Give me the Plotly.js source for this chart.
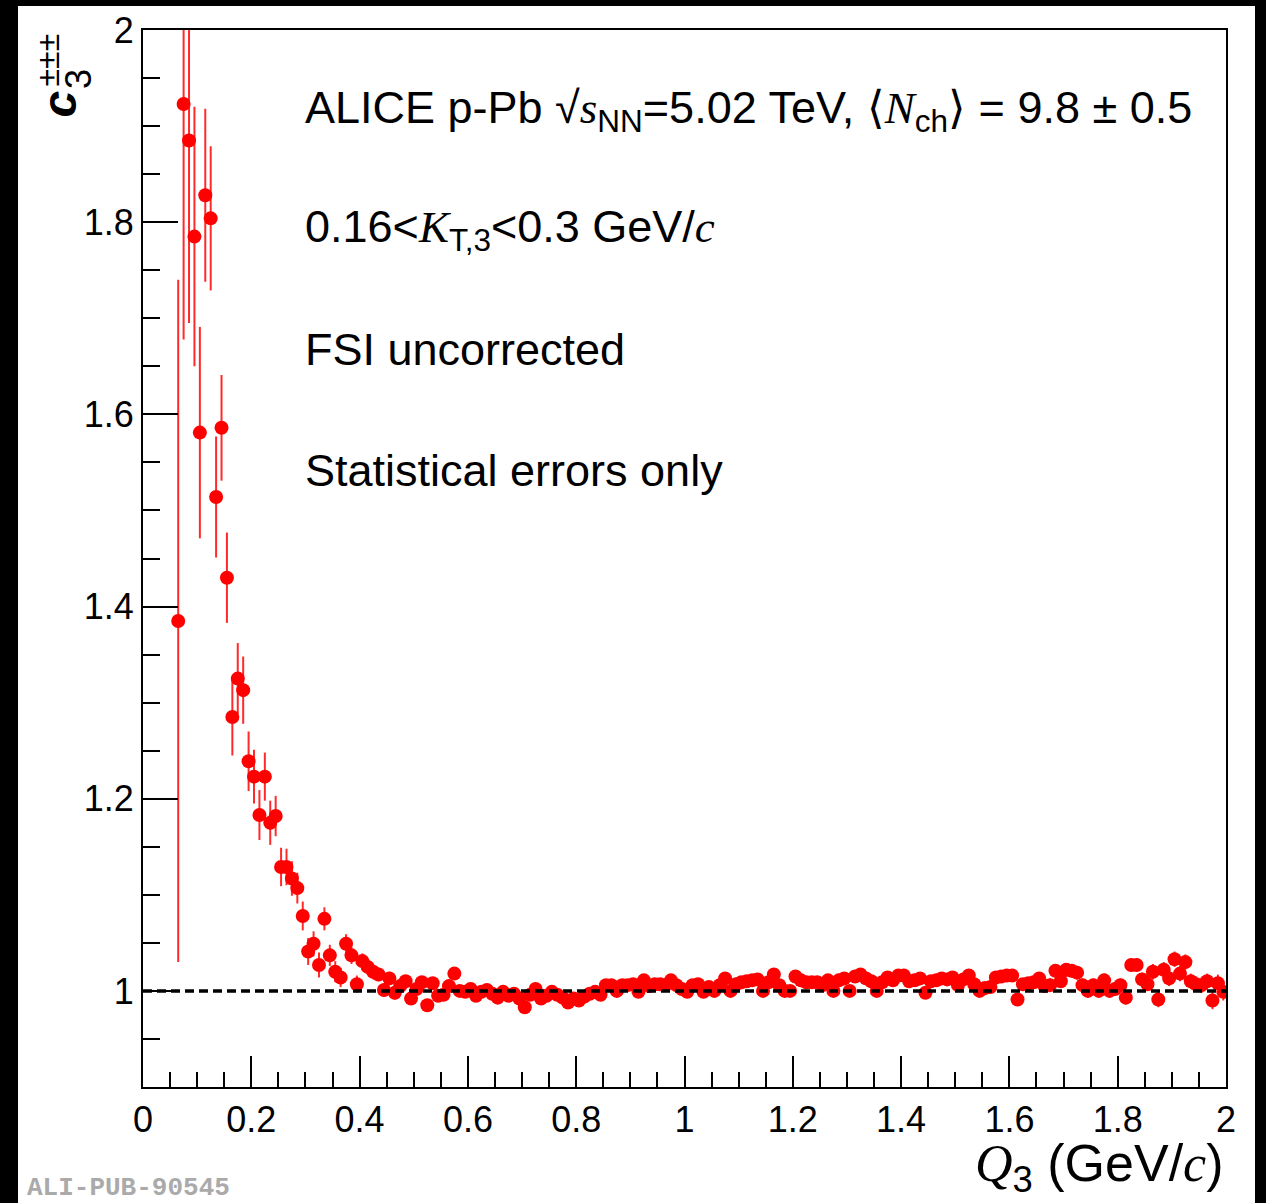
<!DOCTYPE html>
<html>
<head>
<meta charset="utf-8">
<script src="https://cdn.plot.ly/plotly-3.0.1.min.js"></script>
<style>
  html, body { margin: 0; padding: 0; background: #000; width: 1266px; height: 1203px; overflow: hidden; }
  #plot { position: absolute; left: 18px; top: 6px; width: 1237px; height: 1197px; background: #fff; }
</style>
</head>
<body>
<div id="plot"></div>
<script>
// Bin centres of Q3 (GeV/c)
const q3 = [
 0.065,0.075,0.085,0.095,0.105,0.115,0.125,0.135,0.145,0.155,
 0.165,0.175,0.185,0.195,0.205,0.215,0.225,0.235,0.245,0.255,
 0.265,0.275,0.285,0.295,0.305,0.315,0.325,0.335,0.345,0.355,
 0.365,0.375,0.385,0.395,0.405,0.415,0.425,0.435,0.445,0.455,
 0.465,0.475,0.485,0.495,0.505,0.515,0.525,0.535,0.545,0.555,
 0.565,0.575,0.585,0.595,0.605,0.615,0.625,0.635,0.645,0.655,
 0.665,0.675,0.685,0.695,0.705,0.715,0.725,0.735,0.745,0.755,
 0.765,0.775,0.785,0.795,0.805,0.815,0.825,0.835,0.845,0.855,
 0.865,0.875,0.885,0.895,0.905,0.915,0.925,0.935,0.945,0.955,
 0.965,0.975,0.985,0.995,1.005,1.015,1.025,1.035,1.045,1.055,
 1.065,1.075,1.085,1.095,1.105,1.115,1.125,1.135,1.145,1.155,
 1.165,1.175,1.185,1.195,1.205,1.215,1.225,1.235,1.245,1.255,
 1.265,1.275,1.285,1.295,1.305,1.315,1.325,1.335,1.345,1.355,
 1.365,1.375,1.385,1.395,1.405,1.415,1.425,1.435,1.445,1.455,
 1.465,1.475,1.485,1.495,1.505,1.515,1.525,1.535,1.545,1.555,
 1.565,1.575,1.585,1.595,1.605,1.615,1.625,1.635,1.645,1.655,
 1.665,1.675,1.685,1.695,1.705,1.715,1.725,1.735,1.745,1.755,
 1.765,1.775,1.785,1.795,1.805,1.815,1.825,1.835,1.845,1.855,
 1.865,1.875,1.885,1.895,1.905,1.915,1.925,1.935,1.945,1.955,
 1.965,1.975,1.985,1.995
];

// Three-pion correlation c3(+-+-+-)
const c3 = [
 1.385,1.923,1.885,1.785,1.581,1.828,1.804,1.514,1.586,1.430,
 1.285,1.325,1.313,1.239,1.223,1.183,1.223,1.175,1.182,1.129,
 1.129,1.117,1.107,1.078,1.041,1.049,1.027,1.075,1.037,1.020,
 1.014,1.049,1.037,1.007,1.031,1.025,1.020,1.017,1.001,1.013,
 0.998,1.005,1.010,0.992,1.002,1.009,0.985,1.008,0.995,0.996,
 1.005,1.018,1.000,0.999,1.002,0.995,0.999,1.001,0.997,0.993,
 0.999,0.995,0.997,0.992,0.983,0.996,1.002,0.992,0.995,0.999,
 0.996,0.993,0.988,0.992,0.990,0.994,0.997,0.999,0.996,1.006,
 1.006,1.000,1.006,1.006,1.007,0.999,1.011,1.005,1.007,1.007,
 1.006,1.011,1.006,1.002,0.999,1.006,1.007,0.999,1.004,1.000,
 1.006,1.013,1.000,1.007,1.009,1.010,1.011,1.012,1.000,1.009,
 1.017,1.006,1.000,1.000,1.015,1.011,1.009,1.009,1.009,1.006,
 1.011,1.000,1.011,1.013,1.000,1.015,1.017,1.013,1.010,1.000,
 1.009,1.014,1.011,1.016,1.016,1.010,1.011,1.013,0.998,1.010,
 1.011,1.013,1.012,1.014,1.006,1.012,1.016,1.007,1.000,1.003,
 1.004,1.014,1.015,1.016,1.016,0.991,1.007,1.008,1.009,1.013,
 1.005,1.006,1.021,1.010,1.022,1.021,1.019,1.006,1.000,1.006,
 1.000,1.011,1.000,1.002,1.006,0.993,1.027,1.027,1.012,1.007,
 1.020,0.991,1.022,1.013,1.033,1.018,1.030,1.010,1.007,1.006,
 1.010,0.990,1.008,0.999
];

// Statistical errors
const c3Err = [
 0.355,0.245,0.190,0.135,0.110,0.090,0.075,0.063,0.055,0.047,
 0.040,0.037,0.035,0.031,0.028,0.026,0.025,0.023,0.021,0.020,
 0.019,0.018,0.016,0.015,0.014,0.013,0.013,0.012,0.011,0.011,
 0.010,0.010,0.009,0.009,0.008,0.008,0.008,0.007,0.007,0.007,
 0.007,0.007,0.006,0.006,0.006,0.006,0.006,0.006,0.006,0.006,
 0.005,0.005,0.005,0.005,0.005,0.005,0.005,0.005,0.005,0.005,
 0.005,0.005,0.005,0.005,0.005,0.005,0.005,0.005,0.005,0.005,
 0.005,0.005,0.005,0.005,0.005,0.005,0.005,0.005,0.005,0.005,
 0.005,0.005,0.005,0.005,0.005,0.005,0.005,0.005,0.005,0.005,
 0.005,0.005,0.005,0.005,0.005,0.005,0.005,0.005,0.005,0.005,
 0.005,0.005,0.005,0.005,0.005,0.005,0.005,0.005,0.005,0.005,
 0.005,0.005,0.005,0.005,0.005,0.005,0.005,0.005,0.005,0.005,
 0.006,0.006,0.006,0.006,0.006,0.006,0.006,0.006,0.006,0.006,
 0.006,0.006,0.006,0.006,0.006,0.006,0.006,0.006,0.006,0.006,
 0.006,0.006,0.006,0.006,0.006,0.006,0.006,0.006,0.006,0.006,
 0.006,0.006,0.006,0.006,0.006,0.006,0.006,0.006,0.006,0.006,
 0.007,0.007,0.007,0.007,0.007,0.007,0.007,0.007,0.007,0.007,
 0.007,0.007,0.007,0.007,0.007,0.007,0.007,0.007,0.007,0.007,
 0.008,0.008,0.008,0.008,0.008,0.008,0.008,0.008,0.008,0.008,
 0.008,0.009,0.009,0.009
];

// Reference line c3 = 1
const refX = [0, 2];
const refY = [1, 1];

const xTickVals = [0, 0.2, 0.4, 0.6, 0.8, 1, 1.2, 1.4, 1.6, 1.8, 2];
const xTickText = ['0', '0.2', '0.4', '0.6', '0.8', '1', '1.2', '1.4', '1.6', '1.8', '2'];
const yTickVals = [1, 1.2, 1.4, 1.6, 1.8, 2];
const yTickText = ['1', '1.2', '1.4', '1.6', '1.8', '2'];

const SANS = 'Liberation Sans, Arial, Helvetica, sans-serif';

const traces = [
  {
    x: q3, y: c3, type: 'scatter', mode: 'markers',
    marker: { color: '#ff0000', size: 14, line: { width: 0 } },
    error_y: { type: 'data', array: c3Err, visible: true, color: '#ff2a2a', thickness: 2, width: 0 },
    cliponaxis: true, hoverinfo: 'skip', showlegend: false
  },
  {
    x: refX, y: refY, type: 'scatter', mode: 'lines',
    line: { color: '#000', width: 3.5, dash: '9px,5px' },
    hoverinfo: 'skip', showlegend: false
  }
];

function ann(text, x, y, size, opts) {
  return Object.assign({
    text: text, xref: 'paper', yref: 'paper', x: x, y: y,
    xanchor: 'left', yanchor: 'middle', showarrow: false,
    font: { family: SANS, size: size, color: '#000' }
  }, opts || {});
}

const layout = {
  width: 1237, height: 1197,
  paper_bgcolor: '#fff', plot_bgcolor: '#fff',
  margin: { l: 125, r: 29, t: 24, b: 116, pad: 0 },
  showlegend: false,
  font: { family: SANS, size: 36, color: '#000' },
  xaxis: {
    range: [0, 2], tickmode: 'array', tickvals: xTickVals, ticktext: xTickText,
    ticks: 'inside', ticklen: 31, tickwidth: 2, tickcolor: '#000',
    minor: { dtick: 0.05, tick0: 0, ticks: 'inside', ticklen: 15, tickwidth: 2, tickcolor: '#000' },
    showline: true, linecolor: '#000', linewidth: 2, mirror: true,
    showgrid: false, zeroline: false,
    tickfont: { family: SANS, size: 36, color: '#000' }
  },
  yaxis: {
    range: [0.9, 2], tickmode: 'array', tickvals: yTickVals, ticktext: yTickText,
    ticks: 'inside', ticklen: 35, tickwidth: 2, tickcolor: '#000',
    minor: { dtick: 0.05, tick0: 0.9, ticks: 'inside', ticklen: 17, tickwidth: 2, tickcolor: '#000' },
    showline: true, linecolor: '#000', linewidth: 2, mirror: true,
    showgrid: false, zeroline: false,
    tickfont: { family: SANS, size: 36, color: '#000' }
  },
  annotations: [
    ann('ALICE p-Pb √<span style="font-family:Liberation Serif"><i>s</i></span><sub>NN</sub>=5.02 TeV, ⟨<span style="font-family:Liberation Serif"><i>N</i></span><sub>ch</sub>⟩ = 9.8 ± 0.5', 0.1477, 0.9243, 45),
    ann('0.16&lt;<span style="font-family:Liberation Serif"><i>K</i></span><sub>T,3</sub>&lt;0.3 GeV/<span style="font-family:Liberation Serif"><i>c</i></span>', 0.1477, 0.8108, 45),
    ann('FSI uncorrected', 0.1477, 0.6973, 45),
    ann('Statistical errors only', 0.1477, 0.5837, 45),
    // y-axis title pieces (rotated)
    ann('<b><i>c</i></b>', -0.0770, 0.9300, 48, { xanchor: 'center', textangle: -90 }),
    ann('3', -0.060, 0.9536, 36, { xanchor: 'center', textangle: -90 }),
    ann('±±±', -0.0873, 0.9716, 32, { xanchor: 'center', textangle: -90 }),
    // x-axis title
    ann('<span style="font-family:Liberation Serif"><i>Q</i></span><sub>3</sub> (GeV/<span style="font-family:Liberation Serif"><i>c</i></span>)', 1.0, -0.076, 52, { xanchor: 'right' }),
    // watermark
    ann('<b>ALI-PUB-90545</b>', -0.109, -0.096, 26, { font: { family: 'Liberation Mono, Courier New, monospace', size: 26, color: '#aaaaaa' } })
  ]
};

Plotly.newPlot('plot', traces, layout, { staticPlot: true, displayModeBar: false });
</script>
</body>
</html>
